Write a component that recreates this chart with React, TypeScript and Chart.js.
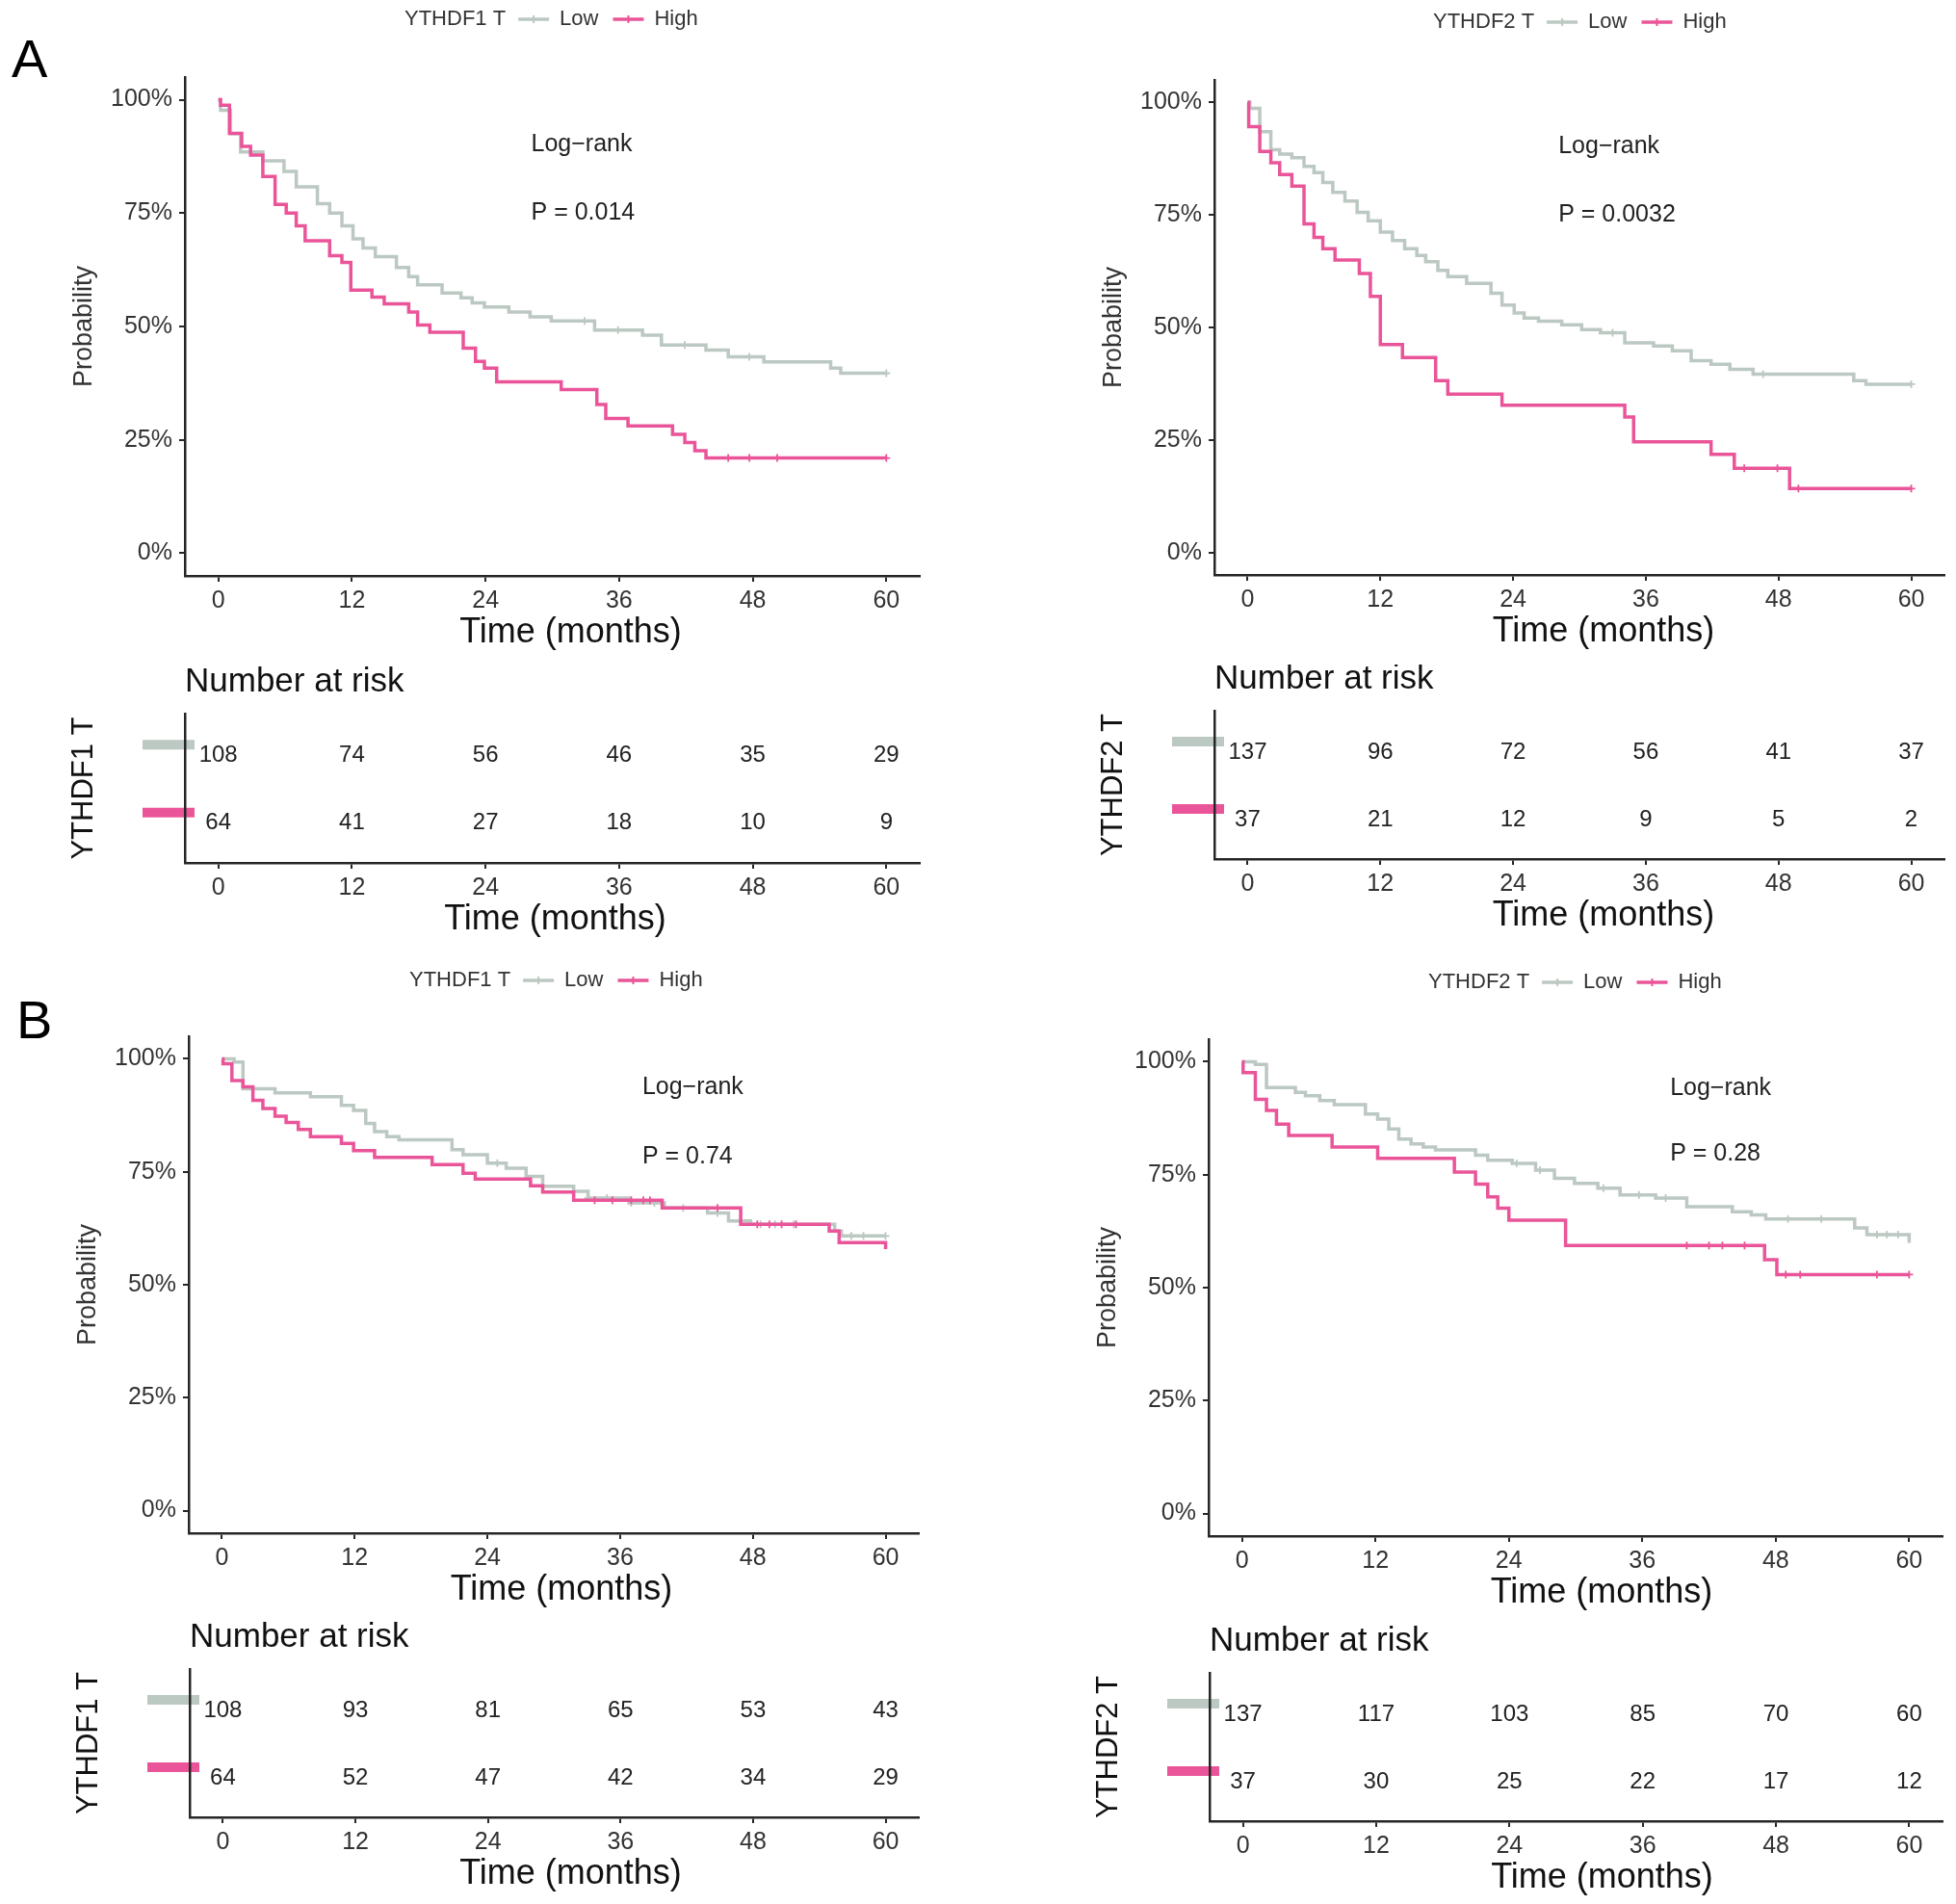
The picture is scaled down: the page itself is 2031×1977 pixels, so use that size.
import React, { useEffect, useRef } from 'react';
import { Chart, registerables } from 'chart.js';

Chart.register(...registerables);

// ---------------- data ----------------
const X_TICKS = [0, 12, 24, 36, 48, 60];
const Y_TICKS = [0, 25, 50, 75, 100];
const RISK_TIMES = [0, 12, 24, 36, 48, 60];
const GROUP_LABELS = ['Low', 'High'];
const X_TITLE = 'Time (months)';

// Panel A, YTHDF1 T
const A1_LOW_T = [0, 0.2, 1.1, 2.0, 4.0, 5.9, 7.0, 8.9, 10.0, 11.1, 12.1, 13.0, 14.1, 16.0, 17.1, 17.9, 20.1, 21.8, 22.8, 23.9, 26.1, 28.0, 29.9, 33.8, 38.1, 39.8, 43.8, 45.8, 49.0, 55.0, 55.9, 60];
const A1_LOW_S = [100, 97.7, 92.5, 88.5, 86.5, 84.2, 80.8, 77.1, 75.0, 72.2, 69.3, 67.3, 65.4, 63.0, 61.0, 59.2, 57.4, 56.3, 55.2, 54.3, 53.2, 52.1, 51.2, 49.2, 48.1, 45.9, 44.8, 43.3, 42.2, 40.8, 39.7, 39.7];
const A1_LOW_CENSOR = [32.9, 35.9, 41.9, 47.7, 60];
const A1_HIGH_T = [0, 0.2, 1.0, 2.1, 2.9, 4.0, 5.1, 6.1, 7.0, 7.8, 10.0, 11.1, 11.9, 13.8, 14.9, 17.1, 17.9, 19.0, 22.0, 23.1, 23.9, 25.0, 30.8, 34.0, 34.8, 36.8, 40.8, 41.9, 42.8, 43.8, 60];
const A1_HIGH_S = [100, 98.8, 92.6, 89.7, 87.8, 83.1, 76.9, 75.0, 72.2, 68.9, 65.6, 64.1, 58.0, 56.5, 55.0, 53.2, 50.3, 48.7, 45.2, 42.3, 40.8, 37.8, 36.1, 32.8, 29.7, 28.1, 26.2, 24.4, 22.6, 21.0, 21.0];
const A1_HIGH_CENSOR = [45.8, 47.7, 50.2, 60];
const A1_RISK_LOW = [108, 74, 56, 46, 35, 29];
const A1_RISK_HIGH = [64, 41, 27, 18, 10, 9];

// Panel A, YTHDF2 T
const A2_LOW_T = [0, 0.2, 1.1, 2.1, 2.9, 4.0, 5.1, 6.0, 6.8, 7.7, 8.8, 9.9, 10.9, 12.0, 13.1, 14.2, 15.3, 16.1, 17.2, 18.1, 19.8, 22.0, 23.0, 24.1, 25.0, 26.3, 28.4, 30.2, 31.9, 34.1, 36.7, 38.4, 40.1, 41.9, 43.6, 45.7, 54.8, 55.9, 60];
const A2_LOW_S = [100, 98.7, 93.5, 89.5, 88.5, 87.7, 85.8, 84.4, 82.2, 80.0, 78.1, 75.6, 73.7, 71.2, 69.3, 67.5, 66.0, 64.6, 62.7, 61.3, 59.8, 57.6, 55.0, 53.2, 52.1, 51.4, 50.6, 49.5, 48.8, 46.6, 45.9, 44.8, 42.6, 41.8, 40.7, 39.6, 38.2, 37.4, 37.4];
const A2_LOW_CENSOR = [33.0, 46.6, 60];
const A2_HIGH_T = [0, 0.1, 1.1, 2.1, 2.9, 4.0, 5.1, 6.0, 6.8, 7.9, 10.1, 11.1, 12.0, 14.0, 17.0, 18.1, 23.0, 34.1, 34.9, 41.9, 44.0, 49.0, 60];
const A2_HIGH_S = [100, 94.6, 89.1, 86.6, 84.0, 81.4, 73.0, 70.0, 67.5, 65.0, 62.0, 56.9, 46.2, 43.3, 38.2, 35.2, 32.7, 30.1, 24.6, 21.8, 18.7, 14.2, 14.2];
const A2_HIGH_CENSOR = [44.9, 47.9, 49.8, 60];
const A2_RISK_LOW = [137, 96, 72, 56, 41, 37];
const A2_RISK_HIGH = [37, 21, 12, 9, 5, 2];

// Panel B, YTHDF1 T
const B1_LOW_T = [0, 1.1, 1.9, 4.8, 8.0, 10.8, 11.9, 13.0, 13.8, 14.9, 16.0, 20.8, 21.8, 24.0, 25.7, 27.5, 29.0, 31.8, 33.1, 36.8, 40.0, 43.9, 45.8, 47.8, 55.4, 56.0, 60];
const B1_LOW_S = [100, 99.3, 93.4, 92.5, 91.6, 89.7, 88.6, 85.7, 83.9, 82.8, 82.1, 79.9, 78.8, 76.9, 75.8, 74.0, 71.8, 70.7, 69.2, 68.1, 67.0, 65.9, 64.1, 63.4, 61.9, 60.8, 60.8];
const B1_LOW_CENSOR = [24.9, 33.1, 34.8, 37.0, 39.1, 41.7, 44.8, 48.7, 50.0, 51.7, 56.9, 58.0, 60];
const B1_HIGH_T = [0, 0.1, 0.9, 1.9, 2.8, 3.7, 4.8, 5.8, 6.9, 8.0, 10.8, 11.9, 13.8, 19.0, 21.8, 22.9, 27.9, 29.0, 31.8, 39.8, 46.9, 54.9, 55.8, 60];
const B1_HIGH_S = [100, 98.9, 95.2, 93.8, 90.8, 89.0, 87.3, 85.9, 84.4, 82.8, 81.3, 79.7, 78.2, 76.6, 74.7, 73.4, 71.9, 70.5, 68.7, 67.0, 63.4, 61.9, 59.3, 57.9];
const B1_HIGH_CENSOR = [33.7, 35.3, 37.0, 38.1, 38.7, 44.8, 48.4, 49.5, 50.6, 51.9];
const B1_RISK_LOW = [108, 93, 81, 65, 53, 43];
const B1_RISK_HIGH = [64, 52, 47, 42, 34, 29];

// Panel B, YTHDF2 T
const B2_LOW_T = [0, 1.2, 2.2, 4.8, 5.7, 7.0, 8.3, 11.1, 12.2, 13.2, 14.1, 15.2, 16.3, 17.4, 21.0, 22.1, 24.3, 26.4, 28.1, 29.9, 32.0, 34.0, 37.2, 40.0, 44.1, 45.8, 47.1, 55.1, 56.2, 60];
const B2_LOW_S = [100, 99.4, 94.3, 93.2, 92.5, 91.4, 90.5, 88.4, 87.3, 85.1, 82.9, 81.8, 81.1, 80.5, 79.3, 78.2, 77.5, 76.0, 74.2, 73.1, 72.0, 70.5, 69.8, 67.9, 66.8, 66.1, 65.2, 63.2, 61.7, 59.9];
const B2_LOW_CENSOR = [24.7, 26.8, 32.5, 35.7, 38.1, 49.1, 52.1, 57.1, 58.0, 59.0];
const B2_HIGH_T = [0, 0.1, 1.2, 2.2, 3.1, 4.2, 8.1, 12.2, 19.1, 21.0, 22.1, 23.0, 24.0, 29.1, 47.0, 48.1, 60];
const B2_HIGH_S = [100, 97.6, 91.7, 89.2, 86.2, 83.7, 81.1, 78.6, 75.6, 72.9, 70.1, 67.6, 64.9, 59.3, 56.2, 52.9, 52.9];
const B2_HIGH_CENSOR = [40.0, 42.0, 43.2, 45.2, 48.9, 50.2, 57.1, 60];
const B2_RISK_LOW = [137, 117, 103, 85, 70, 60];
const B2_RISK_HIGH = [37, 30, 25, 22, 17, 12];

// ---------------- style / layout ----------------
const FONT = '"Liberation Sans", Arial, Helvetica, sans-serif';
const GRAY = '#BCC8C2';
const PINK = '#EA5599';
const AXIS = '#262626';
const TICK_TEXT = '#333333';
const X_MIN = -3, X_MAX = 63, Y_MIN = -5, Y_MAX = 105;
const WY = 130;
const HX = 82;

type Box = { left: number; top: number; width: number; height: number; l: number; r: number; t: number; b: number; tdx: number };

type Panel = {
  gene: string; p: string; letter: string;
  lowT: number[]; lowS: number[]; lowC: number[];
  highT: number[]; highS: number[]; highC: number[];
  riskLow: number[]; riskHigh: number[];
  lrX: number; lrY: number; pY: number;
  legendX: number; legendY: number; letterX: number; letterY: number;
  km: Box; risk: Box;
};

const PANELS: Panel[] = [
  {
    gene: 'YTHDF1 T', p: 'P = 0.014', letter: 'A',
    lowT: A1_LOW_T, lowS: A1_LOW_S, lowC: A1_LOW_CENSOR, highT: A1_HIGH_T, highS: A1_HIGH_S, highC: A1_HIGH_CENSOR,
    riskLow: A1_RISK_LOW, riskHigh: A1_RISK_HIGH, lrX: 28.1, lrY: 90.2, pY: 75,
    legendX: 420, legendY: 20, letterX: 12, letterY: 80,
    km: { left: 0, top: 0, width: 1020, height: 690, l: 192, r: 955, t: 80, b: 598, tdx: 19 },
    risk: { left: 0, top: 690, width: 1020, height: 300, l: 192, r: 955, t: 741, b: 896, tdx: 3 },
  },
  {
    gene: 'YTHDF2 T', p: 'P = 0.0032', letter: '',
    lowT: A2_LOW_T, lowS: A2_LOW_S, lowC: A2_LOW_CENSOR, highT: A2_HIGH_T, highS: A2_HIGH_S, highC: A2_HIGH_CENSOR,
    riskLow: A2_RISK_LOW, riskHigh: A2_RISK_HIGH, lrX: 28.1, lrY: 90.3, pY: 75,
    legendX: 1488, legendY: 23, letterX: 0, letterY: 0,
    km: { left: 1030, top: 0, width: 1001, height: 690, l: 1261, r: 2019, t: 83, b: 597, tdx: 25 },
    risk: { left: 1030, top: 690, width: 1001, height: 300, l: 1261, r: 2019, t: 738, b: 892, tdx: 25 },
  },
  {
    gene: 'YTHDF1 T', p: 'P = 0.74', letter: 'B',
    lowT: B1_LOW_T, lowS: B1_LOW_S, lowC: B1_LOW_CENSOR, highT: B1_HIGH_T, highS: B1_HIGH_S, highC: B1_HIGH_CENSOR,
    riskLow: B1_RISK_LOW, riskHigh: B1_RISK_HIGH, lrX: 38.0, lrY: 93.6, pY: 78.4,
    legendX: 425, legendY: 1018, letterX: 17, letterY: 1078,
    km: { left: 0, top: 990, width: 1020, height: 690, l: 196, r: 954, t: 1076, b: 1592, tdx: 8 },
    risk: { left: 0, top: 1680, width: 1020, height: 297, l: 197, r: 954, t: 1733, b: 1887, tdx: 17 },
  },
  {
    gene: 'YTHDF2 T', p: 'P = 0.28', letter: '',
    lowT: B2_LOW_T, lowS: B2_LOW_S, lowC: B2_LOW_CENSOR, highT: B2_HIGH_T, highS: B2_HIGH_S, highC: B2_HIGH_CENSOR,
    riskLow: B2_RISK_LOW, riskHigh: B2_RISK_HIGH, lrX: 38.5, lrY: 94.2, pY: 79.6,
    legendX: 1483, legendY: 1020, letterX: 0, letterY: 0,
    km: { left: 1030, top: 990, width: 1001, height: 690, l: 1255, r: 2017, t: 1079, b: 1595, tdx: 27 },
    risk: { left: 1030, top: 1680, width: 1001, height: 297, l: 1256, r: 2017, t: 1737, b: 1891, tdx: 27 },
  },
];

function stepAt(T: number[], S: number[], t: number) {
  let v = S[0];
  for (let i = 0; i < T.length; i++) if (T[i] <= t) v = S[i];
  return v;
}

function padFor(box: Box) {
  return {
    left: box.l - box.left - WY,
    right: box.left + box.width - box.r,
    top: box.t - box.top,
    bottom: box.top + box.height - box.b - HX,
  };
}

const gridOpts = { display: true, drawOnChartArea: false, drawTicks: true, tickLength: 6, color: AXIS, lineWidth: 2 };
const borderOpts = { display: true, color: AXIS, width: 2.5 };

function xScaleOpts() {
  return {
    type: 'linear', min: X_MIN, max: X_MAX,
    afterBuildTicks: (s: any) => { s.ticks = X_TICKS.map((v) => ({ value: v })); },
    afterFit: (s: any) => { s.height = HX; },
    ticks: { font: { family: FONT, size: 25 }, color: TICK_TEXT, padding: 5, maxRotation: 0, autoSkip: false, callback: (v: any) => String(v) },
    grid: gridOpts,
    border: borderOpts,
    title: { display: false },
  };
}

function drawXTitle(chart: any, box: Box) {
  const { ctx, chartArea } = chart;
  ctx.save();
  ctx.font = `36px ${FONT}`;
  ctx.fillStyle = '#111';
  ctx.textAlign = 'center';
  ctx.textBaseline = 'middle';
  ctx.fillText(X_TITLE, (chartArea.left + chartArea.right) / 2 + box.tdx, chartArea.bottom + 59);
  ctx.restore();
}

function drawLegend(ctx: CanvasRenderingContext2D, p: Panel) {
  let lx = p.legendX - p.km.left;
  const ly = p.legendY - p.km.top;
  ctx.font = `22px ${FONT}`;
  ctx.fillStyle = '#333';
  ctx.textAlign = 'left';
  ctx.textBaseline = 'middle';
  ctx.fillText(p.gene, lx, ly);
  lx += ctx.measureText(p.gene).width + 13;
  const cols = [GRAY, PINK];
  GROUP_LABELS.forEach((g, i) => {
    ctx.strokeStyle = cols[i];
    ctx.lineWidth = 3.5;
    ctx.beginPath(); ctx.moveTo(lx, ly); ctx.lineTo(lx + 32, ly); ctx.stroke();
    ctx.lineWidth = 2;
    ctx.beginPath(); ctx.moveTo(lx + 16, ly - 4); ctx.lineTo(lx + 16, ly + 4); ctx.stroke();
    lx += 32 + 11;
    ctx.fillStyle = '#333';
    ctx.fillText(g, lx, ly);
    lx += ctx.measureText(g).width + 15;
  });
}

function kmConfig(p: Panel): any {
  const line = (T: number[], S: number[], color: string, label: string) => ({
    label, data: T.map((t, i) => ({ x: t, y: S[i] })), borderColor: color, backgroundColor: color,
    borderWidth: 3.5, showLine: true, stepped: true, pointRadius: 0, pointHoverRadius: 0, fill: false,
  });
  const censor = (C: number[], T: number[], S: number[], color: string, label: string) => ({
    label, data: C.map((t) => ({ x: t, y: stepAt(T, S, t) })), borderColor: color, backgroundColor: color,
    pointStyle: 'cross', pointRadius: 4, pointBorderWidth: 1.8, showLine: false,
  });
  const plugin = {
    id: 'kmText',
    afterDraw(chart: any) {
      const { ctx, scales } = chart;
      const x = scales.x, y = scales.y;
      ctx.save();
      ctx.font = `25px ${FONT}`;
      ctx.fillStyle = '#222';
      ctx.textAlign = 'left';
      ctx.textBaseline = 'middle';
      ctx.fillText('Log\u2212rank', x.getPixelForValue(p.lrX), y.getPixelForValue(p.lrY));
      ctx.fillText(p.p, x.getPixelForValue(p.lrX), y.getPixelForValue(p.pY));
      drawLegend(ctx, p);
      if (p.letter) {
        ctx.font = `56px ${FONT}`;
        ctx.fillStyle = '#000';
        ctx.textBaseline = 'alphabetic';
        ctx.fillText(p.letter, p.letterX - p.km.left, p.letterY - p.km.top);
      }
      ctx.restore();
      drawXTitle(chart, p.km);
    },
  };
  return {
    type: 'scatter',
    data: {
      datasets: [
        line(p.highT, p.highS, PINK, GROUP_LABELS[1]),
        censor(p.highC, p.highT, p.highS, PINK, GROUP_LABELS[1] + ' censored'),
        line(p.lowT, p.lowS, GRAY, GROUP_LABELS[0]),
        censor(p.lowC, p.lowT, p.lowS, GRAY, GROUP_LABELS[0] + ' censored'),
      ],
    },
    options: {
      responsive: false, animation: false, maintainAspectRatio: false, events: [],
      layout: { padding: padFor(p.km) },
      plugins: { legend: { display: false }, tooltip: { enabled: false }, title: { display: false } },
      scales: {
        x: xScaleOpts(),
        y: {
          type: 'linear', min: Y_MIN, max: Y_MAX,
          afterBuildTicks: (s: any) => { s.ticks = Y_TICKS.map((v) => ({ value: v })); },
          afterFit: (s: any) => { s.width = WY; },
          ticks: { font: { family: FONT, size: 25 }, color: TICK_TEXT, padding: 7, callback: (v: any) => v + '%' },
          grid: gridOpts,
          border: borderOpts,
          title: { display: true, text: 'Probability', color: '#333', font: { family: FONT, size: 27, lineHeight: 1 }, padding: { top: 12, bottom: 0 } },
        },
      },
    },
    plugins: [plugin],
  };
}

function riskConfig(p: Panel): any {
  const rows = [
    { counts: p.riskLow, row: 2, color: GRAY, label: GROUP_LABELS[0] },
    { counts: p.riskHigh, row: 1, color: PINK, label: GROUP_LABELS[1] },
  ];
  const plugin = {
    id: 'riskText',
    beforeDraw(chart: any) {
      const { ctx, chartArea, scales } = chart;
      ctx.save();
      rows.forEach((r) => {
        const yp = scales.y.getPixelForValue(r.row);
        ctx.fillStyle = r.color;
        ctx.fillRect(chartArea.left - 44, yp - 15, 54, 10);
      });
      ctx.font = `35px ${FONT}`;
      ctx.fillStyle = '#111';
      ctx.textAlign = 'left';
      ctx.textBaseline = 'middle';
      ctx.fillText('Number at risk', chartArea.left, chartArea.top - 33);
      ctx.restore();
    },
    afterDatasetsDraw(chart: any) {
      const { ctx } = chart;
      ctx.save();
      ctx.font = `24px ${FONT}`;
      ctx.fillStyle = '#222';
      ctx.textAlign = 'center';
      ctx.textBaseline = 'middle';
      chart.data.datasets.forEach((ds: any, di: number) => {
        const meta = chart.getDatasetMeta(di);
        meta.data.forEach((el: any, i: number) => {
          ctx.fillText(String(ds.counts[i]), el.x, el.y + 1);
        });
      });
      ctx.restore();
    },
    afterDraw(chart: any) {
      drawXTitle(chart, p.risk);
    },
  };
  return {
    type: 'scatter',
    data: {
      datasets: rows.map((r) => ({
        label: r.label, counts: r.counts,
        data: RISK_TIMES.map((t) => ({ x: t, y: r.row })),
        pointRadius: 0, pointHoverRadius: 0, showLine: false,
      })),
    },
    options: {
      responsive: false, animation: false, maintainAspectRatio: false, events: [],
      layout: { padding: padFor(p.risk) },
      plugins: { legend: { display: false }, tooltip: { enabled: false }, title: { display: false } },
      scales: {
        x: xScaleOpts(),
        y: {
          type: 'linear', min: 0.4, max: 2.6,
          afterFit: (s: any) => { s.width = WY; },
          ticks: { display: false },
          grid: { display: false },
          border: borderOpts,
          title: { display: true, text: p.gene, color: '#111', font: { family: FONT, size: 31, lineHeight: 1 }, padding: { top: 9.5, bottom: 0 } },
        },
      },
    },
    plugins: [plugin],
  };
}

function ChartCanvas({ box, make }: { box: Box; make: () => any }) {
  const ref = useRef<HTMLCanvasElement>(null);
  useEffect(() => {
    const chart = new Chart(ref.current as HTMLCanvasElement, make());
    return () => chart.destroy();
  }, []);
  return (
    <canvas
      ref={ref}
      width={box.width}
      height={box.height}
      style={{ position: 'absolute', left: box.left, top: box.top, width: box.width, height: box.height }}
    />
  );
}

export default function App() {
  return (
    <div style={{ position: 'absolute', left: 0, top: 0, width: 2031, height: 1977, background: '#fff', overflow: 'hidden' }}>
      {PANELS.map((p, i) => (
        <React.Fragment key={i}>
          <ChartCanvas box={p.km} make={() => kmConfig(p)} />
          <ChartCanvas box={p.risk} make={() => riskConfig(p)} />
        </React.Fragment>
      ))}
    </div>
  );
}
